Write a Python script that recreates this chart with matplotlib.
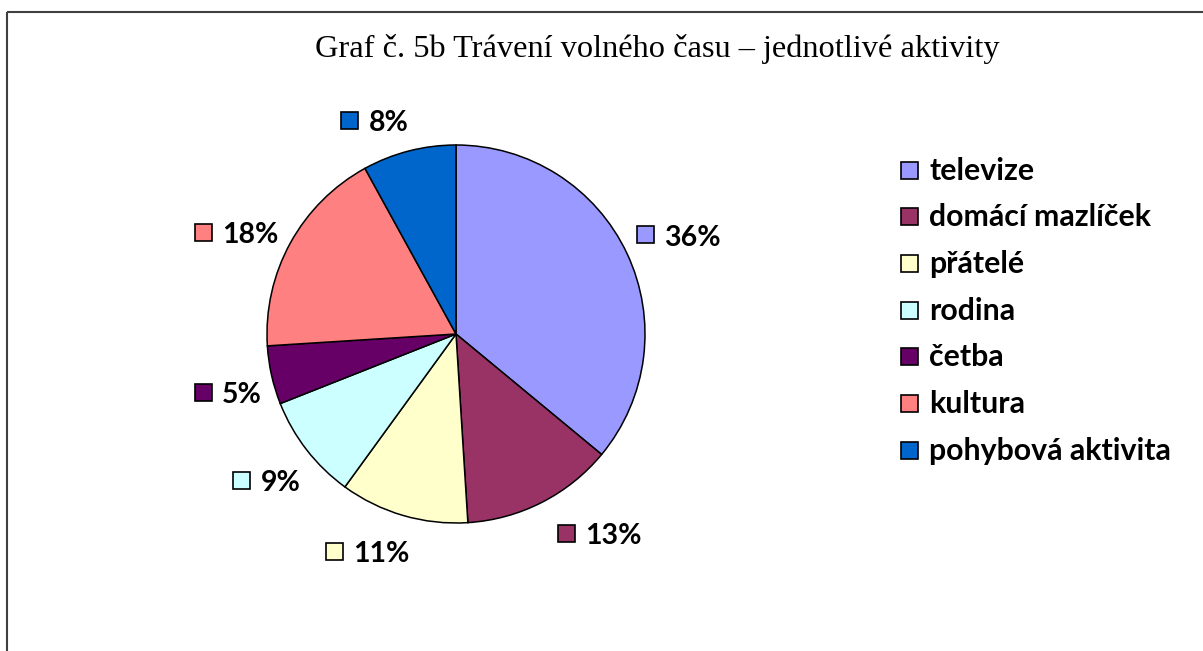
import matplotlib
matplotlib.use("Agg")
import matplotlib.pyplot as plt
from matplotlib.patches import Rectangle

# data
activities = ["televize", "domácí mazlíček", "přátelé", "rodina", "četba", "kultura", "pohybová aktivita"]
shares = [36, 13, 11, 9, 5, 18, 8]
colors = ["#9999FF", "#993366", "#FFFFCC", "#CCFFFF", "#660066", "#FF8080", "#0066CC"]
title = "Graf č. 5b Trávení volného času – jednotlivé aktivity"

W, H = 1203, 651
fig = plt.figure(figsize=(W / 100, H / 100), dpi=100, facecolor="white")
ax = fig.add_axes([0, 0, 1, 1])
ax.axis("off")

# pie (y axis points down, so counterclock=True gives clockwise on screen,
# startangle=-90 puts the first wedge at the top)
wedges, _ = ax.pie(shares, colors=colors, center=(456, 334), radius=189,
                   startangle=-90, counterclock=True,
                   wedgeprops=dict(edgecolor="black", linewidth=1.1))
ax.set_xlim(0, W)
ax.set_ylim(H, 0)
ax.set_aspect("equal")

lab_font = dict(family=["Lato", "DejaVu Sans"], fontweight="bold", fontsize=20.5)
leg_font = dict(family=["Lato", "DejaVu Sans"], fontweight="bold", fontsize=21.8)

# percentage labels with small colour key in front (key square centres)
label_pos = [(645.5, 234.5), (566, 533), (334, 551), (241.5, 480), (203, 392), (203.5, 232), (349.5, 120)]
sq = 17
for (x, y), v, c in zip(label_pos, shares, colors):
    ax.add_patch(Rectangle((x - sq / 2, y - sq / 2), sq, sq, facecolor=c,
                           edgecolor="black", linewidth=1.2))
    ax.text(x + 19, y + 11, "{}%".format(v), ha="left", va="baseline", **lab_font)

# legend
ly0 = 170
ldy = 46.67
for i, (name, c) in enumerate(zip(activities, colors)):
    y = ly0 + i * ldy
    ax.add_patch(Rectangle((909 - sq / 2, y - sq / 2), sq, sq, facecolor=c,
                           edgecolor="black", linewidth=1.2))
    ax.text(929, y + 9.5, name, ha="left", va="baseline", **leg_font)

ax.text(657, 57, title, ha="center", va="baseline",
        family=["Liberation Serif", "DejaVu Serif"], fontsize=23.3)

# frame (right and bottom edges run off the picture)
ax.add_patch(Rectangle((6.5, 12), W + 20, H + 20, facecolor="none",
                       edgecolor="#404040", linewidth=1.5))

fig.savefig("out.png", dpi=100, facecolor="white")
